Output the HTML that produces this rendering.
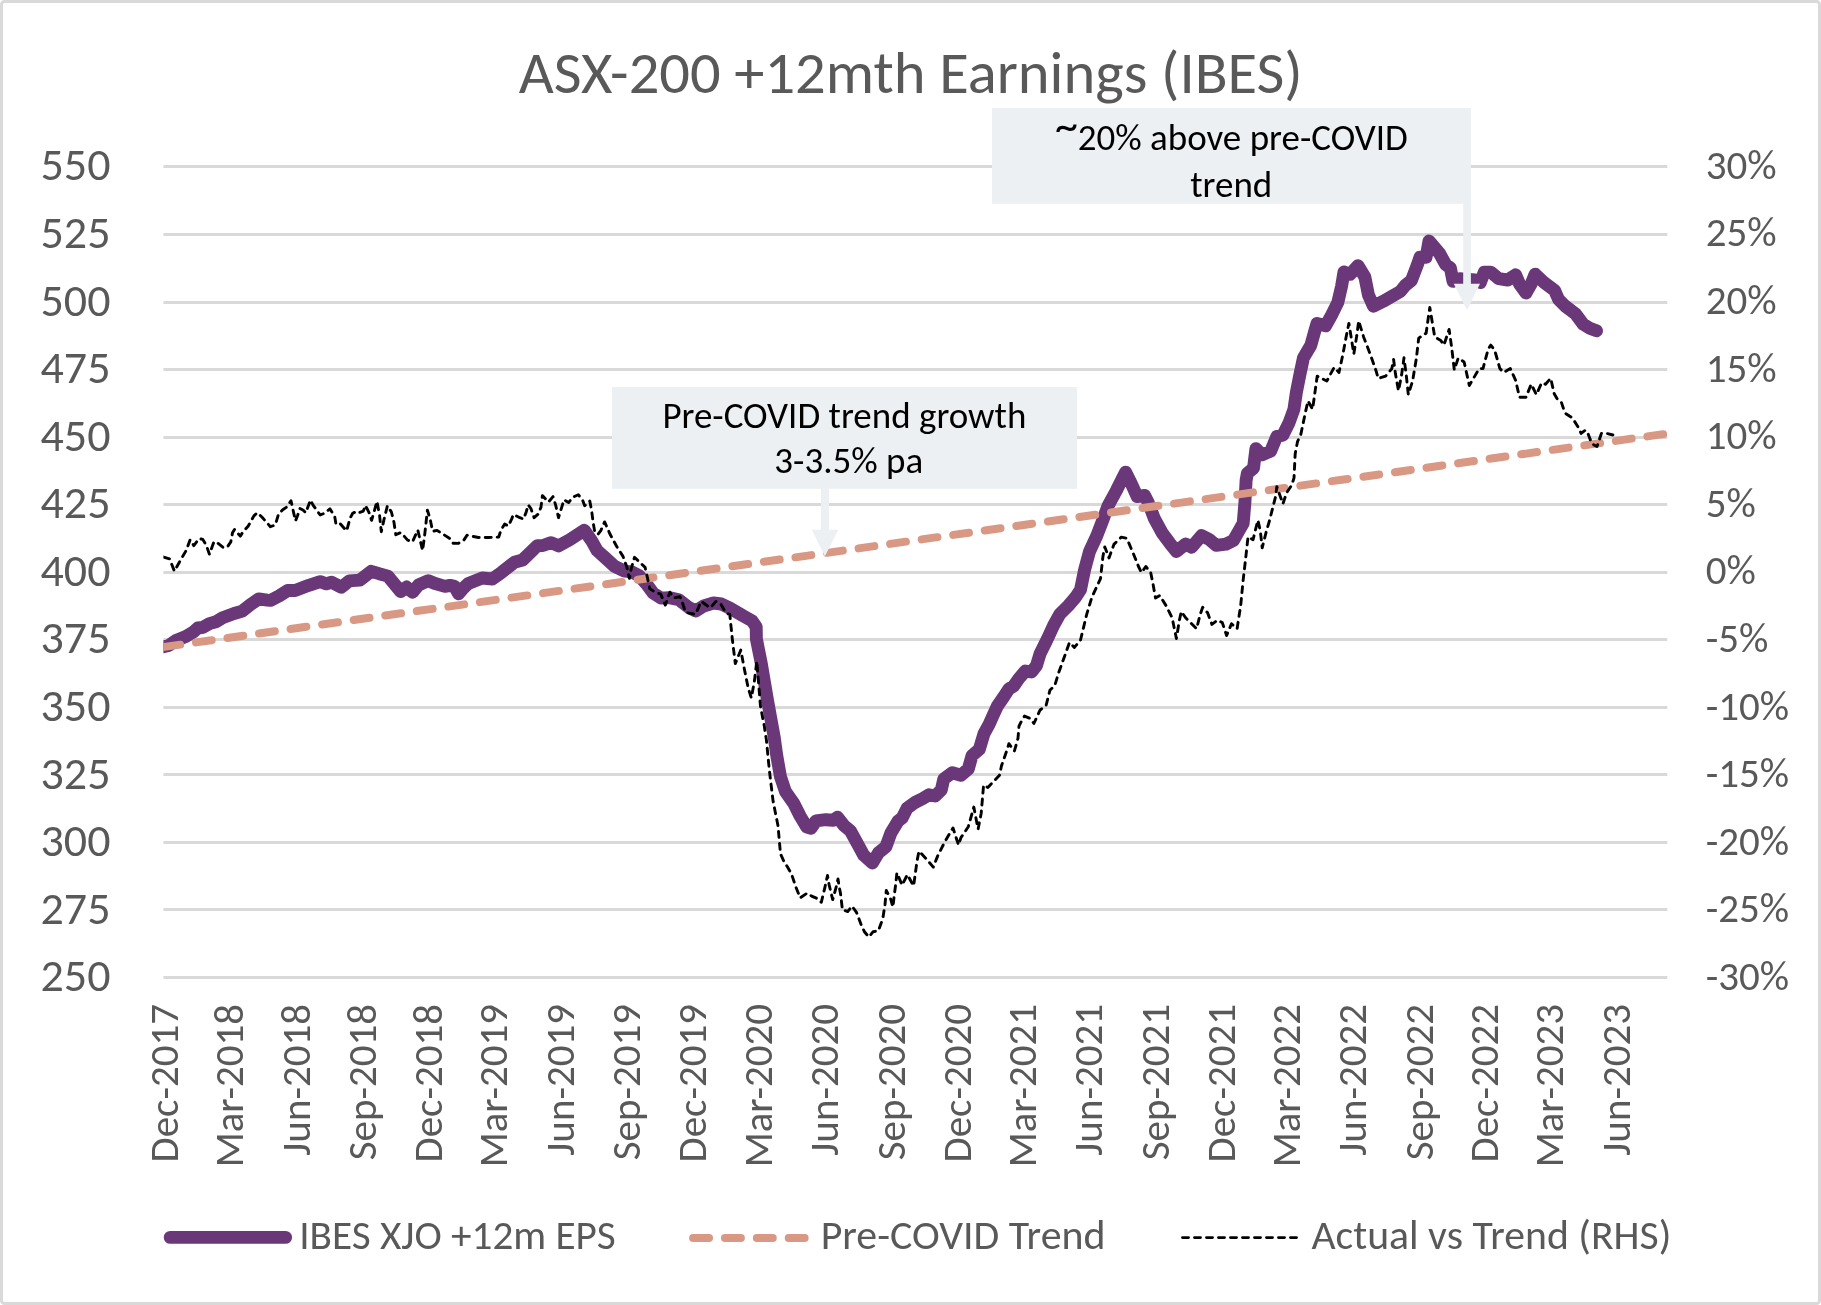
<!DOCTYPE html>
<html><head><meta charset="utf-8"><title>ASX-200 +12mth Earnings (IBES)</title><style>
html,body{margin:0;padding:0;background:#fff;overflow:hidden}
svg{display:block;will-change:transform}
text{font-family:Carlito, "Liberation Sans", Arial, sans-serif;font-size-adjust:0.4775}
</style></head><body>
<svg width="1821" height="1305" viewBox="0 0 1821 1305">
<defs><clipPath id="plot"><rect x="163.4" y="100" width="1503.9" height="900"/></clipPath></defs>
<rect x="1.5" y="1.5" width="1818" height="1302" rx="3" ry="3" fill="#fff" stroke="#d9d9d9" stroke-width="3"/>
<text x="518.7" y="93.2" font-size="60.5" fill="#595959" textLength="784" lengthAdjust="spacingAndGlyphs">ASX-200 +12mth Earnings (IBES)</text>
<path d="M163.4 165h1503.9v3h-1503.9ZM163.4 233h1503.9v3h-1503.9ZM163.4 301h1503.9v3h-1503.9ZM163.4 368h1503.9v3h-1503.9ZM163.4 436h1503.9v3h-1503.9ZM163.4 503h1503.9v3h-1503.9ZM163.4 571h1503.9v3h-1503.9ZM163.4 638h1503.9v3h-1503.9ZM163.4 706h1503.9v3h-1503.9ZM163.4 773h1503.9v3h-1503.9ZM163.4 841h1503.9v3h-1503.9ZM163.4 908h1503.9v3h-1503.9ZM163.4 976h1503.9v3h-1503.9Z" fill="#d9d9d9"/>
<g font-size="46" fill="#595959"><text x="110.5" y="180.3" text-anchor="end" textLength="69.95" lengthAdjust="spacingAndGlyphs">550</text><text x="110.5" y="247.9" text-anchor="end" textLength="69.95" lengthAdjust="spacingAndGlyphs">525</text><text x="110.5" y="315.5" text-anchor="end" textLength="69.95" lengthAdjust="spacingAndGlyphs">500</text><text x="110.5" y="383.1" text-anchor="end" textLength="69.95" lengthAdjust="spacingAndGlyphs">475</text><text x="110.5" y="450.6" text-anchor="end" textLength="69.95" lengthAdjust="spacingAndGlyphs">450</text><text x="110.5" y="518.2" text-anchor="end" textLength="69.95" lengthAdjust="spacingAndGlyphs">425</text><text x="110.5" y="585.8" text-anchor="end" textLength="69.95" lengthAdjust="spacingAndGlyphs">400</text><text x="110.5" y="653.4" text-anchor="end" textLength="69.95" lengthAdjust="spacingAndGlyphs">375</text><text x="110.5" y="721.0" text-anchor="end" textLength="69.95" lengthAdjust="spacingAndGlyphs">350</text><text x="110.5" y="788.5" text-anchor="end" textLength="69.95" lengthAdjust="spacingAndGlyphs">325</text><text x="110.5" y="856.1" text-anchor="end" textLength="69.95" lengthAdjust="spacingAndGlyphs">300</text><text x="110.5" y="923.7" text-anchor="end" textLength="69.95" lengthAdjust="spacingAndGlyphs">275</text><text x="110.5" y="991.3" text-anchor="end" textLength="69.95" lengthAdjust="spacingAndGlyphs">250</text></g>
<g font-size="41" fill="#595959"><text x="1705.7" y="178.8" textLength="70.88" lengthAdjust="spacingAndGlyphs">30%</text><text x="1705.7" y="246.4" textLength="70.88" lengthAdjust="spacingAndGlyphs">25%</text><text x="1705.7" y="314.0" textLength="70.88" lengthAdjust="spacingAndGlyphs">20%</text><text x="1705.7" y="381.6" textLength="70.88" lengthAdjust="spacingAndGlyphs">15%</text><text x="1705.7" y="449.1" textLength="70.88" lengthAdjust="spacingAndGlyphs">10%</text><text x="1705.7" y="516.7" textLength="50.09" lengthAdjust="spacingAndGlyphs">5%</text><text x="1705.7" y="584.3" textLength="50.09" lengthAdjust="spacingAndGlyphs">0%</text><text x="1705.7" y="651.9" textLength="62.66" lengthAdjust="spacingAndGlyphs">-5%</text><text x="1705.7" y="719.5" textLength="83.42" lengthAdjust="spacingAndGlyphs">-10%</text><text x="1705.7" y="787.0" textLength="83.42" lengthAdjust="spacingAndGlyphs">-15%</text><text x="1705.7" y="854.6" textLength="83.42" lengthAdjust="spacingAndGlyphs">-20%</text><text x="1705.7" y="922.2" textLength="83.42" lengthAdjust="spacingAndGlyphs">-25%</text><text x="1705.7" y="989.8" textLength="83.42" lengthAdjust="spacingAndGlyphs">-30%</text></g>
<g font-size="41" fill="#595959"><text transform="translate(178.3 1003.9) rotate(-90)" text-anchor="end" textLength="158.64" lengthAdjust="spacingAndGlyphs">Dec-2017</text><text transform="translate(243.4 1003.9) rotate(-90)" text-anchor="end" textLength="163.47" lengthAdjust="spacingAndGlyphs">Mar-2018</text><text transform="translate(309.9 1003.9) rotate(-90)" text-anchor="end" textLength="151.83" lengthAdjust="spacingAndGlyphs">Jun-2018</text><text transform="translate(376.4 1003.9) rotate(-90)" text-anchor="end" textLength="156.45" lengthAdjust="spacingAndGlyphs">Sep-2018</text><text transform="translate(442.2 1003.9) rotate(-90)" text-anchor="end" textLength="158.64" lengthAdjust="spacingAndGlyphs">Dec-2018</text><text transform="translate(507.2 1003.9) rotate(-90)" text-anchor="end" textLength="163.47" lengthAdjust="spacingAndGlyphs">Mar-2019</text><text transform="translate(573.7 1003.9) rotate(-90)" text-anchor="end" textLength="151.83" lengthAdjust="spacingAndGlyphs">Jun-2019</text><text transform="translate(640.2 1003.9) rotate(-90)" text-anchor="end" textLength="156.45" lengthAdjust="spacingAndGlyphs">Sep-2019</text><text transform="translate(706.0 1003.9) rotate(-90)" text-anchor="end" textLength="158.64" lengthAdjust="spacingAndGlyphs">Dec-2019</text><text transform="translate(771.8 1003.9) rotate(-90)" text-anchor="end" textLength="163.47" lengthAdjust="spacingAndGlyphs">Mar-2020</text><text transform="translate(838.3 1003.9) rotate(-90)" text-anchor="end" textLength="151.83" lengthAdjust="spacingAndGlyphs">Jun-2020</text><text transform="translate(904.8 1003.9) rotate(-90)" text-anchor="end" textLength="156.45" lengthAdjust="spacingAndGlyphs">Sep-2020</text><text transform="translate(970.6 1003.9) rotate(-90)" text-anchor="end" textLength="158.64" lengthAdjust="spacingAndGlyphs">Dec-2020</text><text transform="translate(1035.7 1003.9) rotate(-90)" text-anchor="end" textLength="163.47" lengthAdjust="spacingAndGlyphs">Mar-2021</text><text transform="translate(1102.2 1003.9) rotate(-90)" text-anchor="end" textLength="151.83" lengthAdjust="spacingAndGlyphs">Jun-2021</text><text transform="translate(1168.7 1003.9) rotate(-90)" text-anchor="end" textLength="156.45" lengthAdjust="spacingAndGlyphs">Sep-2021</text><text transform="translate(1234.5 1003.9) rotate(-90)" text-anchor="end" textLength="158.64" lengthAdjust="spacingAndGlyphs">Dec-2021</text><text transform="translate(1299.5 1003.9) rotate(-90)" text-anchor="end" textLength="163.47" lengthAdjust="spacingAndGlyphs">Mar-2022</text><text transform="translate(1366.0 1003.9) rotate(-90)" text-anchor="end" textLength="151.83" lengthAdjust="spacingAndGlyphs">Jun-2022</text><text transform="translate(1432.5 1003.9) rotate(-90)" text-anchor="end" textLength="156.45" lengthAdjust="spacingAndGlyphs">Sep-2022</text><text transform="translate(1498.3 1003.9) rotate(-90)" text-anchor="end" textLength="158.64" lengthAdjust="spacingAndGlyphs">Dec-2022</text><text transform="translate(1563.4 1003.9) rotate(-90)" text-anchor="end" textLength="163.47" lengthAdjust="spacingAndGlyphs">Mar-2023</text><text transform="translate(1629.9 1003.9) rotate(-90)" text-anchor="end" textLength="151.83" lengthAdjust="spacingAndGlyphs">Jun-2023</text></g>
<g clip-path="url(#plot)" fill="none" stroke-linejoin="round" stroke-linecap="round">
<path d="M163.3 646.8L168.7 645.5L176.5 640.2L185.8 636.6L193.4 632.0L197.8 628.0L202.8 627.3L209.4 623.6L216.0 621.8L222.6 617.7L234.1 613.5L242.4 611.1L250.6 604.5L258.8 598.9L267.1 600.1L270.4 600.4L279.4 595.8L287.7 590.5L295.1 590.5L301.7 588.0L308.8 585.3L320.2 581.6L326.4 583.8L331.6 582.3L341.3 587.3L349.2 580.9L359.8 580.1L371.2 571.3L379.1 573.7L387.9 576.1L400.7 591.6L406.6 587.0L412.5 592.3L418.5 585.0L428.3 580.7L434.4 583.3L445.0 586.4L450.0 585.4L454.5 586.4L458.5 593.8L463.0 588.5L468.4 583.4L482.2 578.0L492.3 579.0L501.5 572.4L514.4 562.3L522.6 560.0L537.4 545.7L542.9 545.5L551.1 542.7L558.5 545.9L569.5 539.8L578.7 533.8L584.3 530.3L591.6 540.7L597.1 550.5L604.8 557.3L614.7 566.4L624.6 571.1L631.5 571.9L639.4 575.8L647.3 585.2L653.2 593.1L661.1 598.1L669.1 597.6L678.9 599.7L688.8 607.5L695.7 610.9L703.6 606.0L713.5 603.0L721.4 604.0L730.3 608.4L743.2 615.9L752.1 620.8L756.2 626.8L756.4 639.0L761.3 663.6L767.5 700.3L774.2 737.1L776.8 755.9L780.5 776.8L785.4 791.5L794.0 803.8L800.1 816.0L806.8 827.1L811.1 828.3L816.0 820.9L825.8 819.7L833.2 820.3L837.5 817.2L844.2 825.8L850.3 830.7L857.7 844.2L863.8 855.3L872.4 863.0L878.5 852.8L885.9 846.7L890.8 833.2L898.2 820.9L902.1 818.1L907.0 808.3L915.6 802.1L922.9 798.5L929.0 794.8L935.2 796.0L941.3 789.9L943.8 778.9L952.3 772.7L960.9 775.2L968.3 769.0L972.0 755.6L979.3 749.4L984.0 733.6L989.1 724.4L993.2 715.2L997.4 706.0L1003.8 696.8L1009.0 688.8L1013.5 686.2L1019.0 678.4L1025.4 671.0L1031.5 672.0L1036.4 665.8L1040.1 653.6L1047.4 638.9L1053.6 625.4L1059.7 614.3L1068.3 605.7L1075.6 597.2L1080.5 589.8L1084.5 570.2L1089.4 551.8L1096.8 535.8L1102.9 519.9L1107.8 506.4L1116.4 490.5L1121.3 480.7L1125.6 472.1L1131.1 483.1L1137.2 496.6L1144.6 495.4L1148.3 502.7L1154.4 518.7L1162.3 533.1L1169.6 542.9L1176.4 551.5L1185.6 544.1L1191.7 547.2L1201.5 535.6L1208.9 539.2L1216.2 545.4L1226.0 544.1L1233.4 540.5L1238.3 531.9L1243.2 523.3L1244.9 502.6L1246.1 480.5L1247.4 473.2L1253.5 468.3L1255.9 448.7L1262.1 454.8L1270.7 451.1L1276.8 436.4L1282.9 435.2L1289.0 422.9L1293.9 409.4L1296.4 392.3L1299.8 374.9L1303.5 357.7L1310.8 345.4L1314.5 332.0L1317.0 323.4L1325.6 325.8L1331.7 314.8L1337.8 302.5L1341.5 286.6L1344.0 271.9L1350.1 274.3L1358.0 265.7L1364.8 276.8L1368.5 295.2L1373.4 306.2L1383.2 301.3L1391.8 296.4L1400.3 291.5L1405.3 285.4L1411.4 280.5L1417.5 264.5L1420.0 257.2L1426.1 257.2L1429.0 241.0L1439.6 253.5L1445.7 264.5L1450.4 268.0L1453.0 281.3L1459.5 278.7L1475.2 280.0L1480.4 282.6L1484.3 272.1L1490.8 272.1L1498.6 278.7L1507.7 280.0L1515.6 274.8L1519.5 283.9L1526.0 293.0L1531.2 283.9L1535.1 274.1L1544.2 282.6L1554.6 290.4L1558.6 299.5L1565.1 306.0L1575.5 313.8L1583.3 324.3L1589.8 328.2L1596.5 330.8" stroke="#6a3779" stroke-width="12.9"/>
<path d="M163 647.1L1663.5 434.1" stroke="#d89883" stroke-width="7.97" stroke-dasharray="15.93 15.94" stroke-dashoffset="-1.4"/>
<path d="M163.7 557.1L169.5 558.8L174.4 571.1L180.6 560.0L186.4 550.1L190.1 539.8L193.8 545.6L199.1 538.6L202.8 539.4L206.1 544.8L209.4 554.2L214.0 541.7L217.7 543.1L223.4 547.7L227.5 546.8L230.8 541.9L232.5 532.8L234.5 529.5L240.3 536.1L243.2 531.6L248.1 526.2L253.9 515.9L257.2 512.7L262.1 517.2L270.4 526.7L275.3 525.0L278.6 513.9L282.7 509.8L286.9 506.9L291.0 500.7L292.6 508.1L295.5 520.9L297.6 515.5L300.0 508.5L303.3 510.2L305.7 512.8L310.5 500.1L313.2 505.4L320.2 515.0L324.2 513.3L329.9 508.9L334.7 516.4L336.0 524.3L340.0 523.4L346.6 530.9L350.1 518.1L352.7 513.3L357.1 511.1L359.8 512.4L363.3 511.1L365.5 505.4L369.4 513.3L371.6 520.3L374.3 511.1L376.9 501.4L379.5 514.6L381.3 531.7L383.9 519.9L387.4 505.8L391.4 512.0L394.0 522.5L395.8 534.8L400.6 532.6L404.1 536.1L407.6 540.1L412.5 541.8L417.8 530.0L422.6 550.6L424.8 533.9L427.4 510.2L430.1 519.0L432.7 531.3L437.1 530.4L440.6 532.6L449.4 538.3L452.9 543.2L458.3 543.4L463.8 540.2L467.0 535.2L471.1 536.1L478.5 537.5L488.6 537.5L498.7 537.0L501.0 530.1L504.7 524.1L508.4 526.0L511.6 519.1L513.4 514.5L519.9 517.7L523.6 519.1L526.3 511.7L528.2 504.8L530.9 508.5L534.1 517.7L538.3 514.0L541.0 507.1L542.4 495.6L548.4 502.1L553.0 496.6L555.7 505.3L558.5 517.7L564.0 499.8L568.6 502.5L573.2 497.0L578.3 494.7L582.4 499.8L584.7 505.7L589.8 501.1L591.6 510.3L593.0 521.4L594.8 532.4L598.0 534.3L600.8 530.6L604.6 521.9L610.1 534.3L616.6 546.3L623.0 556.4L626.7 566.5L629.4 578.4L631.3 568.3L634.5 557.3L645.1 567.4L647.8 579.4L649.7 588.6L655.2 592.2L660.7 594.1L665.3 605.1L669.9 592.2L673.6 597.8L680.0 596.8L681.8 600.5L685.5 612.5L695.6 614.3L701.1 601.4L710.3 607.9L715.9 601.4L719.5 603.3L721.2 604.7L726.1 613.3L729.8 614.5L732.3 639.0L734.7 658.7L735.3 663.6L740.8 650.1L744.5 669.7L748.2 688.1L751.3 697.9L754.3 682.0L756.8 661.1L758.0 675.8L760.5 706.5L764.1 724.9L766.4 740.0L769.4 770.7L773.1 801.3L778.0 825.8L780.5 854.0L783.5 860.5L787.8 867.5L791.4 873.7L795.8 886.9L800.2 897.9L807.2 893.1L811.6 896.1L817.8 898.8L821.3 902.3L824.8 887.8L827.5 875.5L829.2 885.1L832.7 899.6L836.2 886.9L838.0 879.0L838.9 885.1L840.6 893.9L842.4 909.8L847.7 911.5L852.1 906.2L856.5 912.4L860.8 923.8L864.4 931.7L868.8 937.0L873.1 931.7L878.4 930.8L882.8 918.5L885.0 904.5L886.3 890.4L890.7 899.2L892.9 907.1L894.2 895.7L895.6 885.1L896.9 872.8L902.1 885.1L907.4 874.6L913.6 886.0L917.1 860.5L919.0 851.2L926.6 859.2L933.3 867.1L937.6 856.1L945.0 841.4L953.0 827.9L958.5 845.1L960.9 837.7L968.3 826.7L973.8 807.1L978.1 829.1L981.2 813.2L983.6 785.0L987.9 787.4L999.5 775.2L1001.5 765.7L1007.0 750.1L1008.9 743.7L1014.4 751.0L1018.0 738.2L1019.0 726.2L1021.7 720.7L1024.5 716.1L1030.3 718.5L1033.9 723.5L1040.1 710.0L1046.2 705.1L1049.9 690.3L1054.8 685.4L1058.5 673.2L1069.5 642.5L1074.4 647.4L1080.5 640.1L1086.7 614.3L1088.2 609.4L1091.9 597.1L1100.5 578.7L1102.9 556.7L1104.8 546.9L1109.0 557.9L1113.9 544.4L1121.3 537.1L1126.8 538.3L1133.6 554.2L1138.5 566.5L1141.5 572.6L1145.8 566.5L1150.7 572.6L1153.2 584.9L1155.5 598.1L1159.8 595.6L1165.9 605.4L1172.1 617.7L1176.4 638.5L1179.4 620.2L1181.3 611.6L1185.6 617.7L1196.6 628.7L1200.3 614.0L1202.7 607.3L1207.6 612.8L1211.9 624.4L1217.4 620.2L1222.3 622.6L1226.6 635.5L1231.5 623.8L1237.1 628.7L1240.7 605.4L1243.2 579.7L1245.6 558.9L1247.5 541.7L1248.1 536.8L1253.0 539.8L1257.9 520.2L1260.3 530.7L1262.2 547.8L1266.5 530.7L1269.4 521.0L1275.6 496.5L1276.8 486.7L1282.9 503.8L1286.6 492.8L1291.5 485.4L1294.0 478.1L1295.2 453.6L1297.6 441.3L1300.7 435.0L1305.3 412.9L1308.0 400.9L1312.6 409.2L1317.2 376.1L1326.8 381.0L1334.1 367.5L1339.0 372.4L1342.7 355.3L1346.4 335.6L1348.9 323.4L1351.3 338.1L1353.8 354.0L1356.8 335.6L1358.7 320.9L1363.6 336.9L1369.7 352.8L1375.8 370.0L1378.3 378.5L1385.6 376.1L1391.8 368.7L1393.6 359.5L1395.4 373.6L1398.5 390.8L1401.6 374.9L1404.0 357.7L1406.5 377.3L1408.3 394.5L1412.6 381.0L1416.3 358.9L1418.7 338.1L1426.1 333.2L1429.8 307.4L1434.7 336.9L1440.8 340.5L1443.9 345.1L1449.1 329.5L1451.7 347.7L1454.3 369.9L1458.2 358.1L1464.1 362.0L1469.3 385.5L1479.1 368.6L1483.0 368.6L1488.2 349.0L1490.8 345.1L1494.7 350.3L1499.9 368.6L1503.8 372.5L1510.3 368.6L1515.6 380.3L1519.5 397.2L1526.0 397.2L1531.2 384.2L1536.4 394.6L1541.6 382.9L1545.5 384.2L1550.7 378.3L1554.2 393.8L1557.5 399.3L1561.3 402.1L1563.5 408.7L1565.7 413.6L1571.7 417.5L1574.5 421.3L1578.3 427.3L1581.1 433.4L1585.5 430.1L1587.7 432.8L1590.4 440.0L1592.1 443.8L1597.0 446.6L1599.2 440.0L1601.4 433.4L1606.3 433.4L1612.9 435.0" stroke="#000" stroke-width="2.9" stroke-dasharray="6 6" stroke-linecap="round"/>
</g>
<path d="M992 108H1470.9V203.7H1470.9V283.8H1480L1467 310.3L1453.8 283.8H1463.2V203.7H992Z" fill="#ecf0f3"/>
<text x="1055" y="141.3" font-size="46" fill="#000">~</text>
<text x="1077.7" y="149.6" font-size="37" fill="#000" textLength="330.08" lengthAdjust="spacingAndGlyphs">20% above pre-COVID</text>
<text x="1190.2" y="196.9" font-size="37" fill="#000" textLength="82.09" lengthAdjust="spacingAndGlyphs">trend</text>
<path d="M612 387H1076.9V488.7H828.9V529.8H838.4L824.9 556.2L811.8 529.8H821V488.7H612Z" fill="#ecf0f3"/>
<text x="662.4" y="428.2" font-size="37" fill="#000" textLength="364.06" lengthAdjust="spacingAndGlyphs">Pre-COVID trend growth</text>
<text x="774.3" y="472.7" font-size="37" fill="#000" textLength="148.9" lengthAdjust="spacingAndGlyphs">3-3.5% pa</text>
<path d="M170.2 1237.4H285.6" stroke="#6a3779" stroke-width="12.9" stroke-linecap="round"/>
<text x="299.2" y="1249.2" font-size="41.2" fill="#595959" textLength="316.6" lengthAdjust="spacingAndGlyphs">IBES XJO +12m EPS</text>
<path d="M693.1 1238H804.9" stroke="#d89883" stroke-width="7.97" stroke-dasharray="15.93 15.94" stroke-linecap="round"/>
<text x="820.7" y="1249.2" font-size="41.2" fill="#595959" textLength="284.8" lengthAdjust="spacingAndGlyphs">Pre-COVID Trend</text>
<path d="M1182.5 1237.6H1296.5" stroke="#000" stroke-width="2.9" stroke-dasharray="6 6" stroke-linecap="round"/>
<text x="1311.4" y="1249.2" font-size="41.2" fill="#595959" textLength="360" lengthAdjust="spacingAndGlyphs">Actual vs Trend (RHS)</text>
</svg>
</body></html>
